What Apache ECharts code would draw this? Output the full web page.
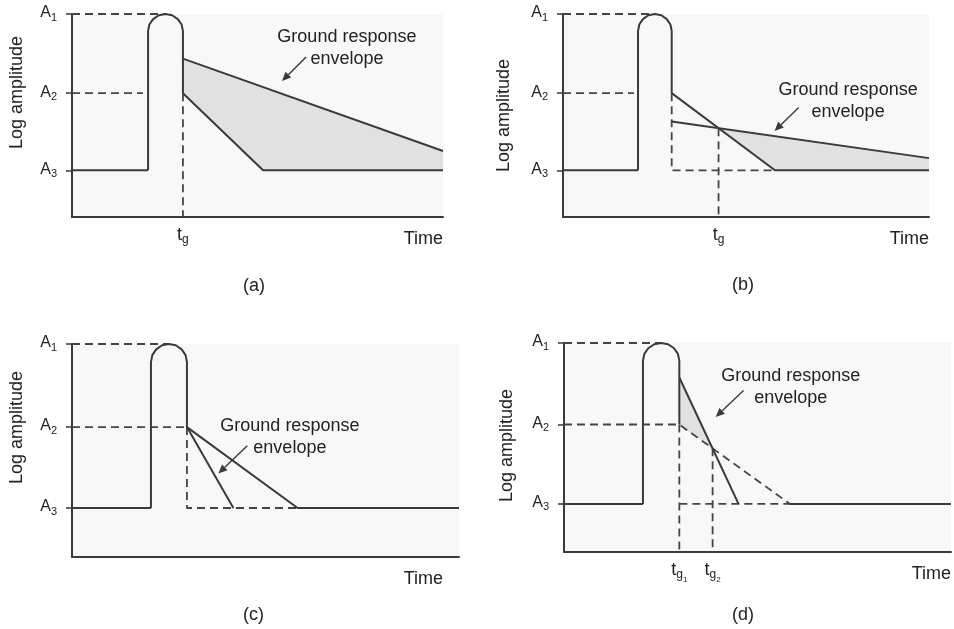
<!DOCTYPE html>
<html>
<head>
<meta charset="utf-8">
<script src="https://cdn.jsdelivr.net/npm/echarts@6/dist/echarts.min.js"></script>
<style>
  html, body { margin: 0; padding: 0; background: #fff; }
  #chart { width: 954px; height: 629px; }
</style>
</head>
<body>
<div id="chart"></div>
<script>
// levels on the log amplitude axis (A1, A2, A3)
const yLevels = [10, 6.1, 2.3];
const yLevelSubs = ['1', '2', '3'];

// (a)
const aCap = [[20.5, 9.16], [20.86, 9.48], [21.88, 9.75], [23.4, 9.94], [25.2, 10], [27.0, 9.94], [28.52, 9.75], [29.54, 9.48], [29.9, 9.16]];
const aBase = [[0, 2.3], [20.5, 2.3]];
const aPulse = [[20.5, 2.3], ...aCap, [29.9, 6.1]];
const aLower = [[29.9, 6.1], [51.5, 2.3], [100, 2.3]];
const aUpper = [[29.9, 7.8], [100, 3.25]];
const aShade = [[29.9, 7.8], [100, 3.25], [100, 2.3], [51.5, 2.3], [29.9, 6.1]];
const aDashes = [[[0, 10], [25.2, 10]], [[0, 6.1], [19.1, 6.1]], [[29.9, 6.1], [29.9, 0]]];
const aTicks = [29.9];
const aTickLabels = ['{t|t}{g|g}'];
const aNote = [74.1, 8.33];
const aArrow = [[63.1, 7.88], [56.6, 6.7]];

// (b)
const bCap = [[20.5, 9.16], [20.85, 9.48], [21.85, 9.75], [23.34, 9.94], [25.1, 10], [26.86, 9.94], [28.35, 9.75], [29.35, 9.48], [29.7, 9.16]];
const bBase = [[0, 2.3], [20.5, 2.3]];
const bPulse = [[20.5, 2.3], ...bCap, [29.7, 6.1]];
const bSteep = [[29.7, 6.1], [57.9, 2.3], [100, 2.3]];
const bEnvelope = [[29.7, 4.7], [100, 2.9]];
const bShade = [[42.5, 4.37], [100, 2.9], [100, 2.3], [57.9, 2.3]];
const bDashes = [[[0, 10], [25.1, 10]], [[0, 6.1], [19.4, 6.1]], [[29.7, 6.1], [29.7, 2.3], [57.9, 2.3]], [[42.5, 4.37], [42.5, 0]]];
const bTicks = [42.5];
const bTickLabels = ['{t|t}{g|g}'];
const bNote = [77.9, 5.71];
const bArrow = [[64.4, 5.4], [57.8, 4.24]];

// (c)
const cCap = [[20.4, 9.15], [20.75, 9.48], [21.76, 9.75], [23.27, 9.94], [25.05, 10], [26.83, 9.94], [28.34, 9.75], [29.35, 9.48], [29.7, 9.15]];
const cBase = [[0, 2.3], [20.4, 2.3]];
const cPulse = [[20.4, 2.3], ...cCap, [29.7, 6.1]];
const cSteep = [[29.7, 6.1], [41.7, 2.3]];
const cShallow = [[29.7, 6.1], [58.3, 2.3], [100, 2.3]];
const cDashes = [[[0, 10], [25.05, 10]], [[0, 6.1], [29.7, 6.1]], [[29.7, 6.1], [29.7, 2.3], [58.3, 2.3]]];
const cTicks = [];
const cTickLabels = [];
const cNote = [56.3, 5.63];
const cArrow = [[45.3, 5.22], [37.8, 3.92]];

// (d)
const dCap = [[20.4, 9.15], [20.76, 9.48], [21.78, 9.75], [23.3, 9.94], [25.1, 10], [26.9, 9.94], [28.42, 9.75], [29.44, 9.48], [29.8, 9.15]];
const dBase = [[0, 2.3], [20.4, 2.3]];
const dPulse = [[20.4, 2.3], ...dCap, [29.8, 6.1]];
const dSteep = [[29.8, 8.35], [45.1, 2.3]];
const dFlat = [[58.4, 2.3], [100, 2.3]];
const dShade = [[29.8, 8.35], [38.4, 4.96], [29.8, 6.1]];
const dDashes = [[[0, 10], [25.1, 10]], [[0, 6.1], [29.8, 6.1], [58.4, 2.3]], [[29.8, 2.3], [58.4, 2.3]], [[29.8, 6.1], [29.8, 0]], [[38.4, 4.96], [38.4, 0]]];
const dTicks = [29.8, 38.4];
const dTickLabels = ['{t|t}{g|g}{n|1}', '{t|t}{g|g}{n|2}'];
const dNote = [58.6, 7.89];
const dArrow = [[46.4, 7.73], [39.2, 6.46]];

const INK = '#3a3a3a';
const TEXT = '#222';
const SHADE = '#e1e1e1';
const FONT = 'Liberation Sans, Arial, sans-serif';

function solid(gi, data) {
  return {
    type: 'line', xAxisIndex: gi, yAxisIndex: gi, data, symbol: 'none', silent: true, z: 3,
    lineStyle: { color: INK, width: 2 }
  };
}

function dashed(gi, data) {
  return {
    type: 'line', xAxisIndex: gi, yAxisIndex: gi, data, symbol: 'none', silent: true, z: 2,
    lineStyle: { color: '#444', width: 1.8, type: [8, 5] }
  };
}

function shade(gi, poly) {
  return {
    type: 'custom', xAxisIndex: gi, yAxisIndex: gi, data: poly, silent: true, z: 1,
    renderItem: (params, api) => {
      if (params.dataIndex !== 0) return;
      return {
        type: 'polygon',
        shape: { points: poly.map(p => api.coord(p)) },
        style: { fill: SHADE }
      };
    }
  };
}

// pointer arrow from the note to the curve
function arrow(gi, seg) {
  return {
    type: 'custom', xAxisIndex: gi, yAxisIndex: gi, data: seg, silent: true, z: 4,
    renderItem: (params, api) => {
      if (params.dataIndex !== 0) return;
      const p0 = api.coord(seg[0]);
      const p1 = api.coord(seg[1]);
      const dx = p1[0] - p0[0], dy = p1[1] - p0[1];
      const len = Math.sqrt(dx * dx + dy * dy);
      const ux = dx / len, uy = dy / len;
      const head = 9, half = 4;
      const bx = p1[0] - ux * head, by = p1[1] - uy * head;
      return {
        type: 'group',
        children: [
          { type: 'line', shape: { x1: p0[0], y1: p0[1], x2: bx, y2: by }, style: { stroke: INK, lineWidth: 1.4 } },
          { type: 'polygon', shape: { points: [p1, [bx - uy * half, by + ux * half], [bx + uy * half, by - ux * half]] }, style: { fill: INK } }
        ]
      };
    }
  };
}

function note(gi, pos) {
  return {
    type: 'scatter', xAxisIndex: gi, yAxisIndex: gi, data: [pos], symbolSize: 1, silent: true, z: 4,
    itemStyle: { color: 'rgba(0,0,0,0)', opacity: 1 },
    label: {
      show: true, position: 'inside', formatter: 'Ground response\nenvelope', opacity: 1,
      fontSize: 18, lineHeight: 22, color: TEXT, fontFamily: FONT
    }
  };
}

const grids = [
  { left: 72, top: 14, width: 371, height: 203 },
  { left: 563, top: 14, width: 366, height: 203 },
  { left: 72, top: 344, width: 387, height: 213 },
  { left: 564, top: 343, width: 387, height: 209 }
].map(g => Object.assign(g, { show: true, backgroundColor: '#f8f8f8', borderWidth: 0 }));

const tickSets = [[aTicks, aTickLabels], [bTicks, bTickLabels], [cTicks, cTickLabels], [dTicks, dTickLabels]];
const timePads = [0, 0, 16, 0];
const nameGaps = [46, 50, 46, 48];
const nameShifts = [46, 0, 46, 4];

const xAxes = tickSets.map(([vals, labels], gi) => ({
  gridIndex: gi, type: 'value', min: 0, max: 100,
  axisLine: { lineStyle: { color: INK, width: 2 } },
  axisTick: { show: false },
  splitLine: { show: false },
  axisLabel: {
    customValues: vals, margin: 9,
    formatter: v => { const i = vals.findIndex(x => Math.abs(x - v) < 1e-6); return i < 0 ? '' : labels[i]; },
    rich: {
      t: { fontSize: 18, lineHeight: 20, verticalAlign: 'top', color: TEXT, fontFamily: FONT },
      g: { fontSize: 12, lineHeight: 14, padding: [8, 0, 0, 0], verticalAlign: 'top', color: TEXT, fontFamily: FONT },
      n: { fontSize: 8, lineHeight: 10, padding: [15, 0, 0, 0], verticalAlign: 'top', color: TEXT, fontFamily: FONT }
    }
  },
  name: 'Time', nameLocation: 'end', nameGap: 0,
  nameTextStyle: { align: 'right', verticalAlign: 'top', padding: [13, timePads[gi], 0, 0], fontSize: 18, color: TEXT, fontFamily: FONT }
}));

const yAxes = [0, 1, 2, 3].map(gi => ({
  gridIndex: gi, type: 'value', min: 0, max: 10,
  axisLine: { lineStyle: { color: INK, width: 2 } },
  axisTick: { show: true, customValues: yLevels, length: 6, lineStyle: { color: INK, width: 1.5 } },
  splitLine: { show: false },
  axisLabel: {
    customValues: yLevels, margin: 15,
    formatter: v => { const i = yLevels.findIndex(x => Math.abs(x - v) < 1e-6); return i < 0 ? '' : '{a|A}{s|' + yLevelSubs[i] + '}'; },
    rich: {
      a: { fontSize: 16, lineHeight: 18, padding: [0, 0, 6, 0], verticalAlign: 'top', color: TEXT, fontFamily: FONT },
      s: { fontSize: 11, lineHeight: 12, padding: [7, 0, 0, 0], verticalAlign: 'top', color: TEXT, fontFamily: FONT }
    }
  },
  name: 'Log amplitude', nameLocation: 'middle', nameRotate: 90, nameGap: nameGaps[gi],
  nameTextStyle: { fontSize: 18, color: TEXT, fontFamily: FONT, padding: [0, 0, 0, nameShifts[gi]] }
}));

const titleStyle = { fontSize: 18, fontWeight: 'normal', color: TEXT, fontFamily: FONT };
const titles = [['(a)', 243, 277], ['(b)', 732, 276], ['(c)', 243, 606], ['(d)', 732, 606]]
  .map(([text, left, top]) => ({ text, left, top, textAlign: 'left', textStyle: titleStyle, padding: 0 }));

const series = [
  shade(0, aShade), solid(0, aBase), solid(0, aPulse), solid(0, aLower), solid(0, aUpper),
  ...aDashes.map(d => dashed(0, d)), note(0, aNote), arrow(0, aArrow),

  shade(1, bShade), solid(1, bBase), solid(1, bPulse), solid(1, bSteep), solid(1, bEnvelope),
  ...bDashes.map(d => dashed(1, d)), note(1, bNote), arrow(1, bArrow),

  solid(2, cBase), solid(2, cPulse), solid(2, cSteep), solid(2, cShallow),
  ...cDashes.map(d => dashed(2, d)), note(2, cNote), arrow(2, cArrow),

  shade(3, dShade), solid(3, dBase), solid(3, dPulse), solid(3, dSteep), solid(3, dFlat),
  ...dDashes.map(d => dashed(3, d)), note(3, dNote), arrow(3, dArrow)
];

const chart = echarts.init(document.getElementById('chart'), null, { renderer: 'canvas' });
chart.setOption({
  animation: false,
  backgroundColor: '#fff',
  textStyle: { fontFamily: FONT },
  title: titles,
  grid: grids,
  xAxis: xAxes,
  yAxis: yAxes,
  series
});
</script>
</body>
</html>
